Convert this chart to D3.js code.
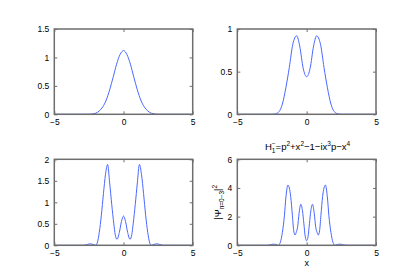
<!DOCTYPE html>
<html>
<head>
<meta charset="utf-8">
<script src="https://cdn.jsdelivr.net/npm/d3@7"></script>
<style>
  body { margin: 0; background: #fff; }
  text { font-family: "Liberation Sans", Arial, sans-serif; fill: #000; }
</style>
</head>
<body>
<div id="chart"></div>
<script>
var width = 415;
var height = 277;

// values (symmetric curves, x >= 0 half mirrored)
var xs0 = [0, 0.25, 0.5, 0.75, 1.0, 1.25, 1.5, 1.75, 2.0, 2.5, 5];
var ys0 = [1.12, 1.05, 0.88, 0.65, 0.43, 0.25, 0.13, 0.06, 0.02, 0, 0];

var xs1 = [0, 0.25, 0.5, 0.72, 1.0, 1.25, 1.5, 1.75, 2.0, 2.25, 2.5, 5];
var ys1 = [0.44, 0.54, 0.8, 0.92, 0.82, 0.55, 0.31, 0.12, 0.03, 0.005, 0, 0];

var xs2 = [0, 0.15, 0.3, 0.47, 0.6, 0.7, 0.85, 1.0, 1.15, 1.3, 1.45, 1.6, 1.75, 1.9, 2.0, 2.2, 2.4, 2.6, 2.9, 5];
var ys2 = [0.68, 0.55, 0.3, 0.14, 0.25, 0.5, 0.95, 1.45, 1.88, 1.65, 1.2, 0.7, 0.3, 0.05, 0, 0.02, 0.035, 0.02, 0, 0];

var xs3 = [0, 0.1, 0.2, 0.3, 0.42, 0.55, 0.65, 0.75, 0.84, 0.93, 1.03, 1.15, 1.35, 1.5, 1.6, 1.75, 1.9, 2.05, 2.2, 2.4, 2.6, 2.9, 5];
var ys3 = [0.32, 0.6, 1.5, 2.4, 2.86, 2.2, 1.3, 0.9, 0.72, 1.0, 2.1, 3.4, 4.2, 3.3, 2.1, 0.9, 0.2, 0, 0.05, 0.08, 0.04, 0, 0];

var xTicks = [-5, 0, 5];
var yTicks0 = [0, 0.5, 1, 1.5];
var yTicks1 = [0, 0.5, 1];
var yTicks2 = [0, 0.5, 1, 1.5, 2];
var yTicks3 = [0, 2, 4, 6];

function mirror(xs, ys) {
  var pts = [];
  for (var i = xs.length - 1; i > 0; i--) pts.push([-xs[i], ys[i]]);
  for (var j = 0; j < xs.length; j++) pts.push([xs[j], ys[j]]);
  return pts;
}

var panels = [
  {x0: 54.3, x1: 192.7, y0: 29, y1: 114.3, ymax: 1.5, yt: yTicks0, pts: mirror(xs0, ys0)},
  {x0: 237.3, x1: 376, y0: 29, y1: 114.3, ymax: 1, yt: yTicks1, pts: mirror(xs1, ys1)},
  {x0: 54.3, x1: 192.7, y0: 159.3, y1: 245.3, ymax: 2, yt: yTicks2, pts: mirror(xs2, ys2)},
  {x0: 237.3, x1: 376, y0: 159.3, y1: 245.3, ymax: 6, yt: yTicks3, pts: mirror(xs3, ys3)}
];

var svg = d3.select("#chart")
  .append("svg")
    .attr("width", width)
    .attr("height", height);

svg.append("rect").attr("width", width).attr("height", height).attr("fill", "#fff");

var fmt = function(d){ return String(d).replace("-", "\u2212"); };

panels.forEach(function(p){
  var x = d3.scaleLinear().domain([-5, 5]).range([p.x0, p.x1]);
  var y = d3.scaleLinear().domain([0, p.ymax]).range([p.y1, p.y0]);
  var g = svg.append("g");

  // curve
  var line = d3.line()
    .x(d => x(d[0]))
    .y(d => y(d[1]))
    .curve(d3.curveMonotoneX);
  g.append("path")
    .datum(p.pts)
    .attr("d", line)
    .attr("fill", "none")
    .attr("stroke", "#4a68ff")
    .attr("stroke-width", 1);

  // box
  g.append("rect")
    .attr("x", p.x0).attr("y", p.y0)
    .attr("width", p.x1 - p.x0).attr("height", p.y1 - p.y0)
    .attr("fill", "none")
    .attr("stroke", "#6e6e6e")
    .attr("stroke-width", 1.5);

  // inside ticks, mirrored
  var bottom = d3.axisBottom(x).tickValues(xTicks).tickSizeInner(-3).tickSizeOuter(0).tickPadding(5).tickFormat(fmt);
  var gb = g.append("g").attr("transform", "translate(0," + p.y1 + ")").call(bottom);
  var top = d3.axisTop(x).tickValues(xTicks).tickSizeInner(-3).tickSizeOuter(0).tickFormat("");
  var gt = g.append("g").attr("transform", "translate(0," + p.y0 + ")").call(top);
  var left = d3.axisLeft(y).tickValues(p.yt).tickSizeInner(-3).tickSizeOuter(0).tickPadding(5).tickFormat(d3.format("~g"));
  var gl = g.append("g").attr("transform", "translate(" + p.x0 + ",0)").call(left);
  var right = d3.axisRight(y).tickValues(p.yt).tickSizeInner(-3).tickSizeOuter(0).tickFormat("");
  var gr = g.append("g").attr("transform", "translate(" + p.x1 + ",0)").call(right);

  [gb, gt, gl, gr].forEach(function(a){
    a.select(".domain").remove();
    a.selectAll("line").attr("stroke", "#6e6e6e");
    a.selectAll("text")
      .style("font-family", "'Liberation Sans', Arial, sans-serif")
      .style("font-size", "8.5px")
      .attr("fill", "#000");
  });
});

// title of last panel
var title = svg.append("text")
  .attr("x", 307.5)
  .attr("y", 150)
  .attr("text-anchor", "middle")
  .style("font-size", "9.5px");
title.append("tspan").text("H");
title.append("tspan").attr("dy", 2.5).style("font-size", "6.5px").text("1");
title.append("tspan").attr("dx", -3.6).attr("dy", -7).style("font-size", "6.5px").text("\u2212");
title.append("tspan").attr("dy", 4.5).text("=p");
title.append("tspan").attr("dy", -4).style("font-size", "6.5px").text("2");
title.append("tspan").attr("dy", 4).text("+x");
title.append("tspan").attr("dy", -4).style("font-size", "6.5px").text("2");
title.append("tspan").attr("dy", 4).text("\u22121\u2212ix");
title.append("tspan").attr("dy", -4).style("font-size", "6.5px").text("3");
title.append("tspan").attr("dy", 4).text("p\u2212x");
title.append("tspan").attr("dy", -4).style("font-size", "6.5px").text("4");

// y label of last panel
var ylab = svg.append("text")
  .attr("transform", "translate(221,202.3) rotate(-90)")
  .attr("text-anchor", "middle")
  .style("font-size", "9.5px");
ylab.append("tspan").text("|\u03A8");
ylab.append("tspan").attr("dy", 2.5).style("font-size", "6.5px").text("n=0\u22123");
ylab.append("tspan").attr("dy", -2.5).text("|");
ylab.append("tspan").attr("dy", -4).style("font-size", "6.5px").text("2");

// x label of last panel
svg.append("text")
  .attr("x", 306.7)
  .attr("y", 266)
  .attr("text-anchor", "middle")
  .style("font-size", "9px")
  .text("x");
</script>
</body>
</html>
